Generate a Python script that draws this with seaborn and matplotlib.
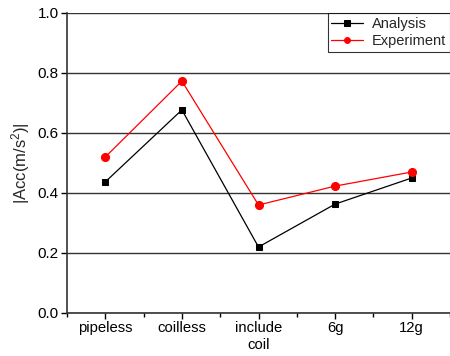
import matplotlib
matplotlib.use("Agg")
import matplotlib.pyplot as plt
import seaborn as sns
import pandas as pd
from matplotlib.ticker import MultipleLocator

categories = ["pipeless", "coilless", "include\ncoil", "6g", "12g"]
analysis = [0.437, 0.677, 0.220, 0.363, 0.450]
experiment = [0.520, 0.773, 0.360, 0.423, 0.470]

sns.set_theme(style="white")
plt.rcParams['font.family'] = ['Liberation Sans', 'DejaVu Sans']
plt.rcParams['mathtext.fontset'] = 'custom'
plt.rcParams['mathtext.rm'] = 'Liberation Sans'
plt.rcParams['mathtext.it'] = 'Liberation Sans'

df = pd.DataFrame({
    "pos": list(range(len(categories))) * 2,
    "value": analysis + experiment,
    "series": ["Analysis"] * len(categories) + ["Experiment"] * len(categories),
})

fig = plt.figure(figsize=(4.5, 3.56), dpi=100)
ax = fig.add_axes([67/450, 1 - 313/356, (450 - 67)/450, 300/356])

for ser, color, marker, ms in [("Analysis", "black", "s", 5), ("Experiment", "red", "o", 5.8)]:
    sub = df[df.series == ser]
    sns.lineplot(data=sub, x="pos", y="value", ax=ax, color=color, marker=marker,
                 markersize=ms, markeredgecolor=color, linewidth=0.9, label=ser)

ax.set_xlim(-0.5, 4.5)
ax.set_ylim(0, 1.0)
ax.set_xticks(range(len(categories)))
ax.set_xticklabels(categories, fontsize=10.7)
ax.set_xticks([i + 0.5 for i in range(-1, 5)], minor=True)
ax.yaxis.set_major_locator(MultipleLocator(0.2))
ax.yaxis.set_minor_locator(MultipleLocator(0.1))
ax.set_yticklabels([f"{v:.1f}" for v in ax.get_yticks()], fontsize=11)
ax.tick_params(axis='both', which='major', direction='out', length=4, width=1, colors='black', pad=2)
ax.tick_params(axis='x', which='minor', direction='out', length=3, width=1, colors='black')
ax.tick_params(axis='y', which='minor', direction='in', length=3, width=1, colors='black')
ax.tick_params(axis='y', which='major', left=True)
ax.tick_params(axis='x', which='both', bottom=True)

ax.yaxis.grid(True, which='major', color='#333333', linewidth=1)
ax.set_axisbelow(True)

for s in ['top', 'right']:
    ax.spines[s].set_visible(False)
for s in ['left', 'bottom']:
    ax.spines[s].set_color('#333333')
    ax.spines[s].set_linewidth(1.2)

ax.set_xlabel("")
ax.set_ylabel("|Acc(m/s$^2$)|", fontsize=12, labelpad=4)

leg = ax.legend(loc="upper right", bbox_to_anchor=(1.0, 1.0), borderaxespad=0,
                frameon=True, fancybox=False, fontsize=10.5, handlelength=2.2,
                borderpad=0.25, labelspacing=0.25, handletextpad=0.6)
leg.get_frame().set_edgecolor('black')
leg.get_frame().set_linewidth(0.8)
for h in leg.legend_handles:
    h.set_markersize(4.2)

fig.savefig("out.png", dpi=100)
